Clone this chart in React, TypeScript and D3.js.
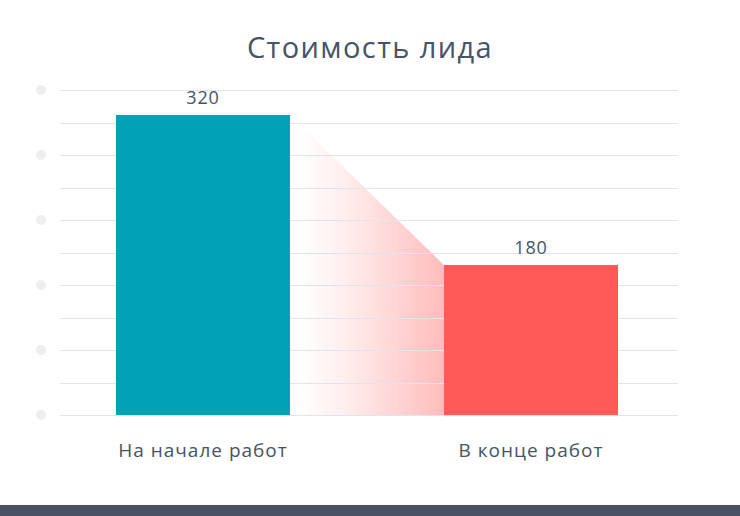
import * as React from 'react';
import * as d3 from 'd3';

const categories = ["На начале работ", "В конце работ"];
const values = [320, 180];
const barColors = ["#00a2b5", "#ff5a58"];
const title = "Стоимость лида";
const gridCount = 10;
const yDomain = [40, 343.3];

const WIDTH = 740;
const HEIGHT = 516;
const textColor = "#475366";
const font = "'Open Sans', sans-serif";

class App extends React.Component<any, any> {
    ref = React.createRef<HTMLDivElement>();

    componentDidMount() {
        document.body.style.margin = "0";
        this.createGraph();
    }

    createGraph() {
        d3.select(this.ref.current).select("svg").remove();

        const margin = {left: 60, right: 62, top: 90, bottom: 101};
        const svg = d3.select(this.ref.current)
            .append("svg")
            .attr("width", WIDTH)
            .attr("height", HEIGHT)
            .style("display", "block");

        svg.append("rect").attr("width", WIDTH).attr("height", HEIGHT).attr("fill", "#ffffff");

        let xScale = d3.scaleBand()
            .domain(categories)
            .range([margin.left, WIDTH - margin.right - 4])
            .paddingInner(0.4695)
            .paddingOuter(0.1707);
        let yScale = d3.scaleLinear()
            .domain(yDomain)
            .range([HEIGHT - margin.bottom, margin.top]);

        let defs = svg.append("defs");
        let grad = defs.append("linearGradient")
            .attr("id", "fadeGrad")
            .attr("x1", "0").attr("x2", "1").attr("y1", "0").attr("y2", "0");
        grad.append("stop").attr("offset", "0.05").attr("stop-color", "#ff5a58").attr("stop-opacity", 0);
        grad.append("stop").attr("offset", "0.35").attr("stop-color", "#ff5a58").attr("stop-opacity", 0.1);
        grad.append("stop").attr("offset", "1").attr("stop-color", "#ff5a58").attr("stop-opacity", 0.4);

        // connector between the two bars
        let x0 = xScale(categories[0])! + xScale.bandwidth();
        let x1 = xScale(categories[1])!;
        let base = yScale(yDomain[0]);
        svg.append("path")
            .attr("d", d3.line()([
                [x0, yScale(values[0])],
                [x1, yScale(values[1])],
                [x1, base],
                [x0, base]
            ]) + "Z")
            .attr("fill", "url(#fadeGrad)");

        // gridlines
        let ticks = d3.range(gridCount + 1).map(i => yDomain[0] + (yDomain[1] - yDomain[0]) * i / gridCount);
        svg.append("g")
            .selectAll("line")
            .data(ticks)
            .enter()
            .append("line")
            .attr("x1", margin.left)
            .attr("x2", WIDTH - margin.right)
            .attr("y1", d => Math.round(yScale(d)) + 0.5)
            .attr("y2", d => Math.round(yScale(d)) + 0.5)
            .attr("stroke", "#e4e4e8")
            .attr("stroke-width", 1.2);

        svg.append("g")
            .selectAll("circle")
            .data(ticks.filter((d, i) => i % 2 === 0))
            .enter()
            .append("circle")
            .attr("cx", 41)
            .attr("cy", d => yScale(d))
            .attr("r", 5)
            .attr("fill", "#eeeeee");

        // bars
        let g = svg.append("g");
        g.selectAll(".bar")
            .data(values)
            .enter()
            .append("rect")
            .attr("class", "bar")
            .attr("x", (d, i) => xScale(categories[i])!)
            .attr("y", d => yScale(d))
            .attr("width", xScale.bandwidth())
            .attr("height", d => base - yScale(d))
            .attr("fill", (d, i) => barColors[i]);

        g.selectAll(".label")
            .data(values)
            .enter()
            .append("text")
            .attr("class", "label")
            .attr("x", (d, i) => xScale(categories[i])! + xScale.bandwidth() / 2)
            .attr("y", d => yScale(d) - 11)
            .attr("text-anchor", "middle")
            .style("font-family", font)
            .style("font-size", "18px")
            .style("letter-spacing", "0.8px")
            .style("fill", textColor)
            .text(d => d);

        svg.append("g")
            .selectAll("text")
            .data(categories)
            .enter()
            .append("text")
            .attr("x", d => xScale(d)! + xScale.bandwidth() / 2)
            .attr("y", 457)
            .attr("text-anchor", "middle")
            .style("font-family", font)
            .style("font-size", "19px")
            .style("letter-spacing", "1px")
            .style("fill", textColor)
            .text(d => d);

        svg.append("text")
            .attr("x", WIDTH / 2)
            .attr("y", 58)
            .attr("text-anchor", "middle")
            .style("font-family", font)
            .style("font-size", "29px")
            .style("letter-spacing", "1.4px")
            .style("fill", textColor)
            .text(title);

        svg.append("rect")
            .attr("x", 0)
            .attr("y", 505)
            .attr("width", WIDTH)
            .attr("height", HEIGHT - 505)
            .attr("fill", "#4a5365");
    }

    render() {
        return <div ref={this.ref}></div>;
    }
}

export default App;
